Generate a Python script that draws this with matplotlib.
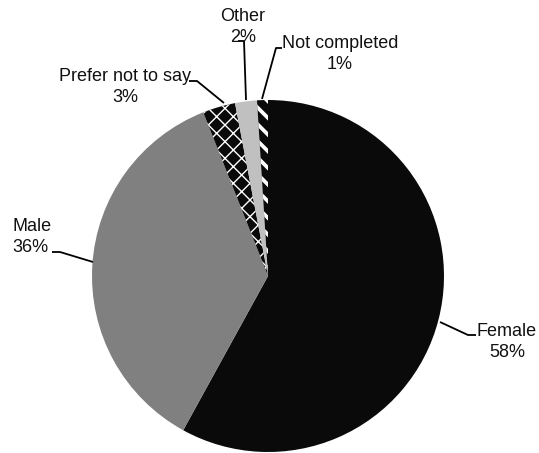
import matplotlib.pyplot as plt

plt.rcParams['font.family'] = ['Liberation Sans', 'DejaVu Sans']
plt.rcParams['hatch.linewidth'] = 1.0

labels = ['Female', 'Male', 'Prefer not to say', 'Other', 'Not completed']
values = [58, 36, 3, 2, 1]
colors = ['#0a0a0a', '#808080', '#0a0a0a', '#c0c0c0', '#0a0a0a']
hatches = [None, None, 'xx', None, '\\\\']
hatch_lw = [1.0, 1.0, 1.0, 1.0, 2.7]

W, H = 539, 453
fig = plt.figure(figsize=(W / 100, H / 100), dpi=100)
ax = fig.add_axes([0, 0, 1, 1])

cx, cy, r = 268, H - 276, 176
wedges, _ = ax.pie(values, colors=colors, startangle=90, counterclock=False,
                   center=(cx, cy), radius=r, frame=True,
                   wedgeprops=dict(edgecolor='white', linewidth=0))
for w, h, lw in zip(wedges, hatches, hatch_lw):
    if h:
        w.set_hatch(h)
        if hasattr(w, 'set_hatch_linewidth'):
            w.set_hatch_linewidth(lw)
ax.set_xlim(0, W)
ax.set_ylim(0, H)
ax.set_aspect('equal')
ax.axis('off')

# label text position, alignment, leader line points (pixel coords, y down)
label_pos = [
    ((477, 342), 'left', 'center', [(440, 322), (468, 335), (476, 335)]),
    ((12, 237), 'left', 'left', [(93, 262), (60, 252), (52, 252)]),
    ((125, 87), 'center', 'center', [(224, 103), (197, 81), (189, 81)]),
    ((243, 27), 'center', 'center', [(246, 100), (244, 41), (238, 41)]),
    ((340, 54), 'center', 'center', [(262, 99), (276, 48), (282, 48)]),
]
for lab, v, (pos, ha, ma, pts) in zip(labels, values, label_pos):
    xs = [p[0] for p in pts]
    ys = [H - p[1] for p in pts]
    ax.plot(xs, ys, color='black', lw=1.3, solid_capstyle='butt')
    x, y = pos
    ax.text(x, H - y, lab + '\n' + f'{v}%', ha=ha, va='center',
            multialignment=ma, fontsize=13, linespacing=1.3, color='#111111')

fig.savefig('out.png', dpi=100)
